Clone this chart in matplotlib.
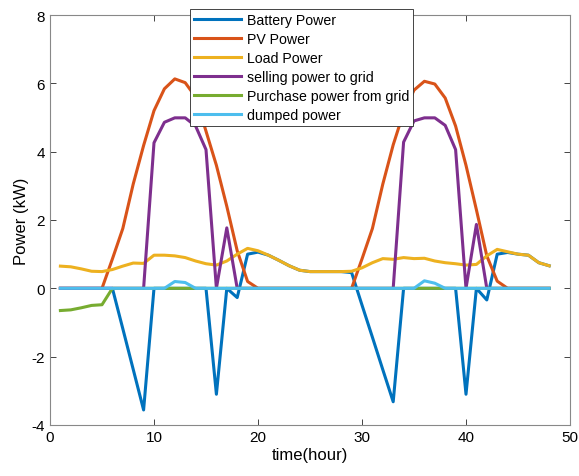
import numpy as np
import matplotlib.pyplot as plt

plt.rcParams['font.family'] = ['Liberation Sans', 'DejaVu Sans']
plt.rcParams['axes.unicode_minus'] = False

hours = np.arange(1, 49)

# readings from the chart, one value per hour
battery = [0, 0, 0, 0, 0, 0, -1.18, -2.37, -3.56, 0,
           0, 0, 0, 0, 0, -3.1, 0, -0.27, 1.0, 1.06,
           0.97, 0.82, 0.66, 0.53, 0.49, 0.49, 0.49, 0.49, 0.46, -0.49,
           -1.43, -2.38, -3.32, 0, 0, 0, 0, 0, 0, -3.1,
           0, -0.34, 1.0, 1.05, 1.0, 0.97, 0.75, 0.66]
pv = [0, 0, 0, 0, 0, 0.86, 1.75, 3.05, 4.18, 5.2,
      5.84, 6.13, 6.02, 5.6, 4.6, 3.6, 2.4, 1.1, 0.2, 0,
      0, 0, 0, 0, 0, 0, 0, 0, 0, 0.86,
      1.75, 3.05, 4.2, 5.15, 5.8, 6.06, 5.98, 5.57, 4.75, 3.6,
      2.3, 0.95, 0.21, 0, 0, 0, 0, 0]
load = [0.65, 0.63, 0.57, 0.5, 0.49, 0.55, 0.65, 0.74, 0.73, 0.97,
        0.97, 0.95, 0.9, 0.8, 0.72, 0.68, 0.8, 1.0, 1.17, 1.1,
        0.97, 0.82, 0.66, 0.53, 0.49, 0.49, 0.49, 0.49, 0.5, 0.6,
        0.75, 0.87, 0.85, 0.9, 0.87, 0.88, 0.8, 0.75, 0.72, 0.68,
        0.7, 0.95, 1.14, 1.07, 1.0, 0.97, 0.75, 0.66]
selling = [0, 0, 0, 0, 0, 0, 0, 0, 0, 4.26,
           4.86, 4.99, 4.99, 4.75, 4.06, 0, 1.77, 0, 0, 0,
           0, 0, 0, 0, 0, 0, 0, 0, 0, 0,
           0, 0, 0, 4.28, 4.9, 4.99, 4.99, 4.77, 4.06, 0,
           1.87, 0, 0, 0, 0, 0, 0, 0]
purchase = [-0.65, -0.63, -0.57, -0.5, -0.48, 0, 0, 0, 0, 0,
            0, 0, 0, 0, 0, 0, 0, 0, 0, 0,
            0, 0, 0, 0, 0, 0, 0, 0, 0, 0,
            0, 0, 0, 0, 0, 0, 0, 0, 0, 0,
            0, 0, 0, 0, 0, 0, 0, 0]
dumped = [0, 0, 0, 0, 0, 0, 0, 0, 0, 0,
          0, 0.2, 0.17, 0, 0, 0, 0, 0, 0, 0,
          0, 0, 0, 0, 0, 0, 0, 0, 0, 0,
          0, 0, 0, 0, 0, 0.22, 0.15, 0, 0, 0,
          0, 0, 0, 0, 0, 0, 0, 0]

series = [
    (battery, 'Battery Power', '#0072BD'),
    (pv, 'PV Power', '#D95319'),
    (load, 'Load Power', '#EDB120'),
    (selling, 'selling power to grid', '#7E2F8E'),
    (purchase, 'Purchase power from grid', '#77AC30'),
    (dumped, 'dumped power', '#4DBEEE'),
]

fig = plt.figure(figsize=(5.79, 4.77), dpi=100)
ax = fig.add_axes([50/579, 1-426/477, 520/579, 410/477])

for vals, name, col in series:
    ax.plot(hours, vals, color=col, lw=2.2, label=name)

ax.set_xlim(0, 50)
ax.set_ylim(-4, 8)
ax.set_xticks(range(0, 51, 10))
ax.set_yticks(range(-4, 9, 2))
ax.tick_params(direction='in', top=True, right=True, labelsize=11, length=4,
               color='#262626', width=0.6)
for sp in ax.spines.values():
    sp.set_color('#888888')
    sp.set_linewidth(0.8)
ax.set_xlabel('time(hour)', fontsize=12, labelpad=2)
ax.set_ylabel('Power (kW)', fontsize=12, labelpad=2)

leg = ax.legend(loc='upper left', bbox_to_anchor=(190/579, 1-10/477),
                bbox_transform=fig.transFigure, borderaxespad=0,
                fontsize=10.2, frameon=True, fancybox=False, framealpha=1,
                handlelength=3.3, handletextpad=0.4, labelspacing=0.35,
                borderpad=0.3)
leg.get_frame().set_edgecolor('#262626')
leg.get_frame().set_linewidth(0.6)

fig.savefig('out.png', dpi=100)
